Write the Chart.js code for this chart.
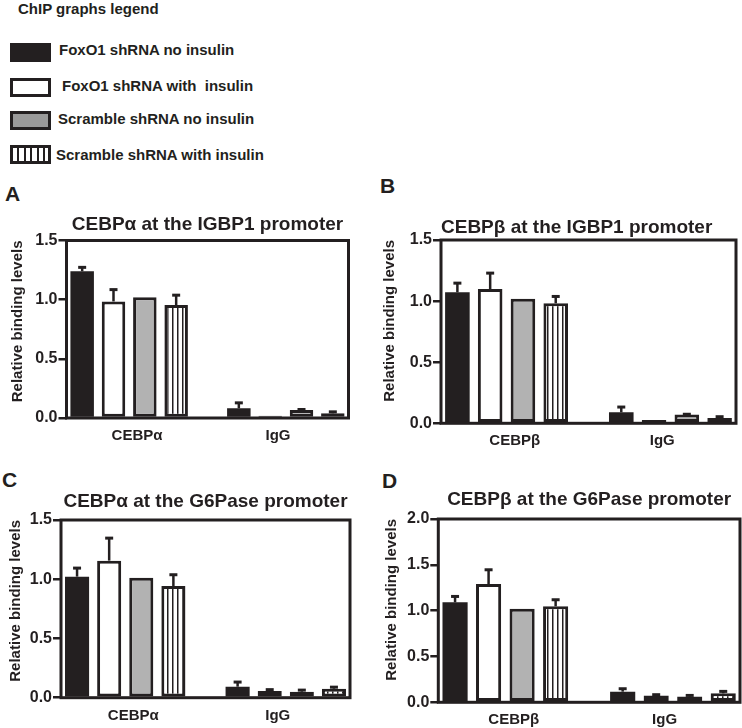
<!DOCTYPE html>
<html>
<head>
<meta charset="utf-8">
<script src="https://cdn.jsdelivr.net/npm/chart.js@4.4.1/dist/chart.umd.min.js"></script>
<style>
body { margin: 0; background: #fff; }
#page { position: relative; width: 742px; height: 728px; overflow: hidden; font-family: "Liberation Sans", Arial, sans-serif; font-weight: bold; color: #231f20; }
.t { position: absolute; white-space: pre; font-size: 15px; line-height: 18px; }
.letter { position: absolute; font-size: 21px; line-height: 21px; }
.sw { position: absolute; left: 10px; width: 35px; height: 13px; border: 3px solid #231f20; background: #fff; }
canvas { position: absolute; }
</style>
</head>
<body>
<div id="page">
  <div class="t" style="left:18px; top:0px;">ChIP graphs legend</div>

  <div class="sw" style="top:43px; background:#231f20;"></div>
  <div class="t" style="left:59px; top:41px;">FoxO1 shRNA no insulin</div>
  <div class="sw" style="top:78px;"></div>
  <div class="t" style="left:62px; top:77px;">FoxO1 shRNA with  insulin</div>
  <div class="sw" style="top:111px; background:#9a9a9a;"></div>
  <div class="t" style="left:58px; top:110px;">Scramble shRNA no insulin</div>
  <div class="sw" style="top:145px; background:repeating-linear-gradient(90deg, #fff 0 4.5px, #231f20 4.5px 6.5px);"></div>
  <div class="t" style="left:56px; top:146px;">Scramble shRNA with insulin</div>

  <div class="letter" style="left:5px; top:183px;">A</div>
  <div class="letter" style="left:380px; top:175px;">B</div>
  <div class="letter" style="left:2px; top:469px;">C</div>
  <div class="letter" style="left:382px; top:470px;">D</div>

  <canvas id="chartA" width="352" height="248" style="left:0px; top:200px;"></canvas>
  <canvas id="chartB" width="370" height="254" style="left:370px; top:200px;"></canvas>
  <canvas id="chartC" width="354" height="248" style="left:0px; top:480px;"></canvas>
  <canvas id="chartD" width="372" height="248" style="left:370px; top:480px;"></canvas>
</div>

<script>
const INK = "#231f20"
const FONT = "'Liberation Sans', Arial, sans-serif"

const seriesNames = ["FoxO1 shRNA no insulin", "FoxO1 shRNA with  insulin", "Scramble shRNA no insulin", "Scramble shRNA with insulin"]
const groupsAlpha = ["CEBPα", "IgG"]
const groupsBeta = ["CEBPβ", "IgG"]
const yTicks15 = [0, 0.5, 1.0, 1.5]
const yTicks20 = [0, 0.5, 1.0, 1.5, 2.0]

// each row = one series, values for [CEBP, IgG]
const meanA = [[1.24, 0.082], [0.985, 0.02], [1.02, 0.068], [0.955, 0.04]]
const semA = [[0.033, 0.046], [0.10, 0], [0, 0.004], [0.083, 0.012]]

const meanB = [[1.072, 0.09], [1.099, 0.027], [1.02, 0.071], [0.982, 0.044]]
const semB = [[0.075, 0.043], [0.13, 0], [0, 0.003], [0.056, 0.01]]

const meanC = [[1.022, 0.093], [1.157, 0.056], [1.013, 0.051], [0.943, 0.076]]
const semC = [[0.072, 0.039], [0.19, 0.012], [0, 0.013], [0.095, 0.013]]

const meanD = [[1.091, 0.116], [1.291, 0.073], [1.022, 0.062], [1.047, 0.098]]
const semD = [[0.064, 0.032], [0.155, 0.01], [0, 0.013], [0.072, 0.021]]

function stripes() {
    let c = document.createElement("canvas")
    c.width = 5
    c.height = 4
    let g = c.getContext("2d")
    g.fillStyle = "#fff"
    g.fillRect(0, 0, 5, 4)
    g.fillStyle = INK
    g.fillRect(2, 0, 1.5, 4)
    return g.createPattern(c, "repeat")
}

const fills = [INK, "#fff", "#b2b2b2", stripes()]
const borders = [0, 3, 3, 3] // solid black bar needs no outline

const errorBars = {
    id: "errorBars",
    afterDatasetsDraw(chart) {
        let ctx = chart.ctx
        let y = chart.scales.y
        ctx.save()
        ctx.strokeStyle = INK
        chart.data.datasets.forEach((ds, i) => {
            chart.getDatasetMeta(i).data.forEach((bar, j) => {
                let e = ds.sem[j]
                if (!e) return
                let top = y.getPixelForValue(ds.data[j].y + e)
                ctx.lineWidth = 2.5
                ctx.beginPath()
                ctx.moveTo(bar.x, bar.y)
                ctx.lineTo(bar.x, top)
                ctx.stroke()
                ctx.lineWidth = 3
                ctx.beginPath()
                ctx.moveTo(bar.x - 4, top)
                ctx.lineTo(bar.x + 4, top)
                ctx.stroke()
            })
        })
        ctx.restore()
    }
}

const frame = {
    id: "frame",
    afterDatasetsDraw(chart) {
        let ctx = chart.ctx
        let a = chart.chartArea
        ctx.save()
        ctx.strokeStyle = INK
        ctx.lineWidth = 3
        ctx.strokeRect(a.left, a.top, a.right - a.left, a.bottom - a.top)
        ctx.restore()
    }
}

function makePanel(id, p) {
    new Chart(document.getElementById(id), {
        type: "bar",
        data: {
            labels: p.groups,
            datasets: p.means.map((m, k) => ({
                label: seriesNames[k],
                data: m.map((v, i) => ({ x: i, y: v })),
                sem: p.sems[k],
                backgroundColor: fills[k],
                borderColor: INK,
                borderWidth: borders[k],
                borderSkipped: false,
                xAxisID: "x",
                categoryPercentage: 0.8,
                barPercentage: 0.75
            }))
        },
        options: {
            responsive: false,
            animation: false,
            devicePixelRatio: 1,
            layout: { padding: { left: 0, right: p.padRight, top: 0, bottom: 0 } },
            plugins: {
                legend: { display: false },
                tooltip: { enabled: false },
                title: {
                    display: true,
                    text: p.title,
                    fullSize: false,
                    align: p.titleAlign,
                    color: INK,
                    font: { family: FONT, size: 19, weight: "bold" },
                    padding: { top: p.titleTop, bottom: p.titleBottom }
                }
            },
            scales: {
                // positions the bar groups; drawn with zero height
                x: {
                    type: "linear",
                    position: "bottom",
                    offset: false,
                    bounds: "data",
                    min: -0.4,
                    max: 1.4,
                    ticks: { display: false },
                    grid: { display: false, drawTicks: false },
                    border: { display: false },
                    afterBuildTicks: s => { s.ticks = p.groups.map((g, i) => ({ value: i })) },
                    afterFit: s => { s.height = 0 }
                },
                xc: {
                    type: "category",
                    position: "bottom",
                    offset: true,
                    grid: { display: false, drawTicks: false },
                    border: { display: false },
                    ticks: { color: INK, padding: 9, maxRotation: 0, font: { family: FONT, size: 15, weight: "bold" } },
                    afterFit: s => { s.height = p.xh }
                },
                y: {
                    min: 0,
                    max: p.yTicks[p.yTicks.length - 1],
                    afterBuildTicks: s => { s.ticks = p.yTicks.map(v => ({ value: v })) },
                    ticks: { color: INK, padding: 1, callback: v => v.toFixed(1), font: { family: FONT, size: 16, weight: "bold" } },
                    grid: { drawOnChartArea: false, tickLength: 8, lineWidth: 2.5, color: INK },
                    border: { display: false },
                    title: {
                        display: true,
                        text: "Relative binding levels",
                        align: "end",
                        color: INK,
                        padding: { top: p.yTitlePad, bottom: 0 },
                        font: { family: FONT, size: 15, weight: "bold" }
                    },
                    afterFit: s => { s.width = p.yw }
                }
            }
        },
        plugins: [errorBars, frame]
    })
}

makePanel("chartA", {
    title: "CEBPα at the IGBP1 promoter", titleAlign: "center", titleTop: 13.6, titleBottom: 4.1,
    groups: groupsAlpha, means: meanA, sems: semA, yTicks: yTicks15,
    yw: 66.5, xh: 30, padRight: 3.5, yTitlePad: 9
})

makePanel("chartB", {
    title: "CEBPβ at the IGBP1 promoter", titleAlign: "start", titleTop: 16.6, titleBottom: 0.6,
    groups: groupsBeta, means: meanB, sems: semB, yTicks: yTicks15,
    yw: 71, xh: 30.7, padRight: 4, yTitlePad: 11
})

makePanel("chartC", {
    title: "CEBPα at the G6Pase promoter", titleAlign: "center", titleTop: 10.6, titleBottom: 6.6,
    groups: groupsAlpha, means: meanC, sems: semC, yTicks: yTicks15,
    yw: 61, xh: 30.3, padRight: 4, yTitlePad: 6.5
})

makePanel("chartD", {
    title: "CEBPβ at the G6Pase promoter", titleAlign: "center", titleTop: 8.6, titleBottom: 7.6,
    groups: groupsBeta, means: meanD, sems: semD, yTicks: yTicks20,
    yw: 68.3, xh: 25.7, padRight: 2, yTitlePad: 13
})
</script>
</body>
</html>
